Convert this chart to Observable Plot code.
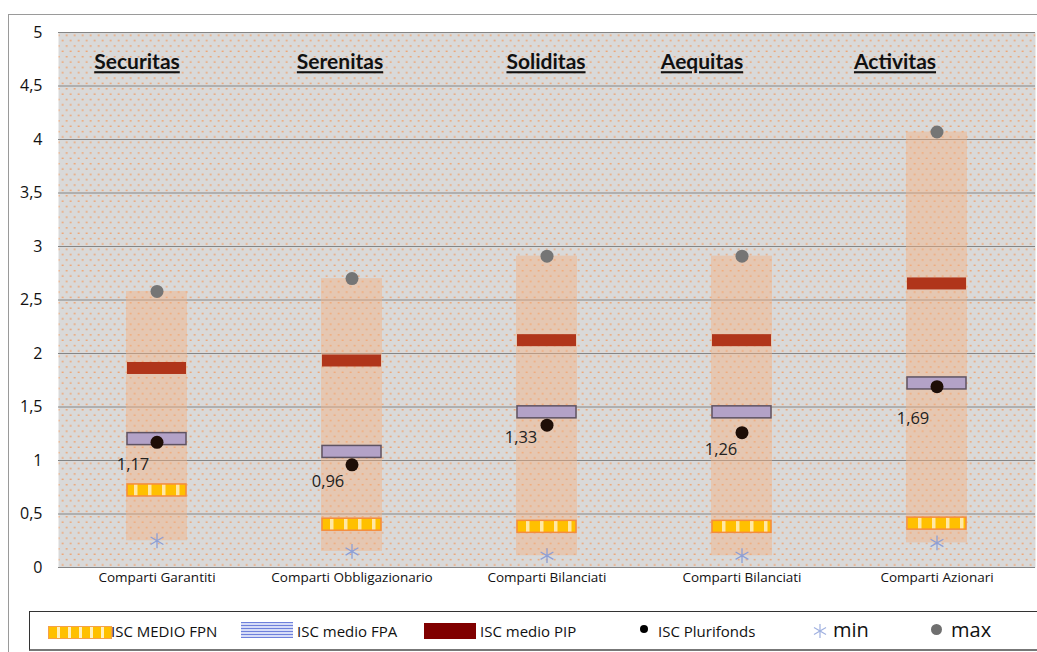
<!DOCTYPE html>
<html>
<head>
<meta charset="utf-8">
<script src="https://cdn.jsdelivr.net/npm/d3@7"></script>
<script src="https://cdn.jsdelivr.net/npm/@observablehq/plot@0.6"></script>
<style>
  html, body { margin: 0; padding: 0; background: #fff; }
  body { width: 1037px; height: 652px; overflow: hidden; position: relative; font-family: "Open Sans", sans-serif; }
  #chart { position: absolute; left: 0; top: 0; }
  #frame { position: absolute; left: 8px; top: 14px; width: 1100px; height: 640px; border-left: 1px solid #9a9a9a; border-top: 1px solid #9a9a9a; pointer-events: none; }
  #legend { position: absolute; left: 29px; top: 611px; width: 1100px; height: 40px; border-top: 1px solid #333; border-left: 1px solid #333; border-bottom: 2px solid #777; box-sizing: border-box; background: #fff; }
  .lg { position: absolute; }
  .lt { position: absolute; color: #111; white-space: nowrap; line-height: 1; }
</style>
</head>
<body>
<div id="chart"></div>
<div id="frame"></div>
<div id="legend"></div>
<script>
// ---- data ----
const funds = ["Securitas", "Serenitas", "Soliditas", "Aequitas", "Activitas"];
const comparti = ["Comparti Garantiti", "Comparti Obbligazionario", "Comparti Bilanciati", "Comparti Bilanciati", "Comparti Azionari"];
const iscMin = [0.25, 0.15, 0.11, 0.11, 0.23];
const iscMax = [2.58, 2.70, 2.91, 2.91, 4.07];
const iscFPN = [0.72, 0.40, 0.38, 0.38, 0.41];
const iscFPA = [1.20, 1.08, 1.45, 1.45, 1.72];
const iscPIP = [1.86, 1.93, 2.12, 2.12, 2.65];
const iscPlurifonds = [1.17, 0.96, 1.33, 1.26, 1.69];
const yTicks = [0, 0.5, 1, 1.5, 2, 2.5, 3, 3.5, 4, 4.5, 5];
const legendLabels = ["ISC MEDIO FPN", "ISC medio FPA", "ISC medio PIP", "ISC Plurifonds", "min", "max"];

// ---- layout (label offsets only) ----
const labelDy = [22, 17, 13, 17, 32];
const labelDx = [-24, -24, -26, -21, -24];
const titleDx = [-20, -12, -1, -40, -42];
const titleY = 4.72;

const idx = funds.map((_, i) => i);
const fx = i => funds[i];
const fmt = v => v.toFixed(2).replace(".", ",");

const plot = Plot.plot({
  width: 1037,
  height: 610,
  marginLeft: 58,
  marginRight: 2,
  marginTop: 32,
  marginBottom: 43,
  style: { fontFamily: "Open Sans", fontSize: "16px", background: "transparent", color: "#111" },
  x: { domain: funds, padding: 0, label: null, tickSize: 0, tickPadding: 5,
       tickFormat: (d, i) => comparti[funds.indexOf(d)] },
  y: { domain: [0, 5], label: null, ticks: yTicks, tickSize: 0, tickPadding: 16,
       tickFormat: d => String(d).replace(".", ",") },
  marks: [
    Plot.frame({ fill: "url(#dots)", stroke: null }),
    Plot.gridY(yTicks, { stroke: "#858585", strokeOpacity: 1, strokeWidth: 1.2 }),
    // range band min-max
    Plot.barY(idx, { x: fx, y1: i => iscMin[i], y2: i => iscMax[i], fill: "#f4b183", fillOpacity: 0.45, insetLeft: 67, insetRight: 67 }),
    // PIP
    Plot.barY(idx, { x: fx, y1: i => iscPIP[i], y2: i => iscPIP[i], insetTop: -6, insetBottom: -6, insetLeft: 68, insetRight: 68, fill: "#b0351a" }),
    // FPA
    Plot.barY(idx, { x: fx, y1: i => iscFPA[i], y2: i => iscFPA[i], insetTop: -6, insetBottom: -6, insetLeft: 68, insetRight: 68, fill: "#b3a2c7", stroke: "#5e5363", strokeWidth: 1.5 }),
    // FPN
    Plot.barY(idx, { x: fx, y1: i => iscFPN[i], y2: i => iscFPN[i], insetTop: -6, insetBottom: -6, insetLeft: 68, insetRight: 68, fill: "url(#stripes)", stroke: "#f58c3c", strokeWidth: 1.5 }),
    // min
    Plot.dot(idx, { x: fx, y: i => iscMin[i], symbol: "asterisk", r: 7, stroke: "#8d9fd6", strokeWidth: 1.3 }),
    // max
    Plot.dot(idx, { x: fx, y: i => iscMax[i], r: 6.5, fill: "#757575", stroke: null }),
    // plurifonds
    Plot.dot(idx, { x: fx, y: i => iscPlurifonds[i], r: 6.5, fill: "#1e0e07", stroke: null }),
    // labels
    ...idx.map(i => Plot.text([i], { x: fx, y: j => iscPlurifonds[j], text: j => fmt(iscPlurifonds[j]), dx: labelDx[i], dy: labelDy[i], fontSize: 16.5, fill: "#222" })),
    // fund titles
    ...idx.map(i => Plot.text([i], { x: fx, y: () => titleY, text: j => funds[j], dx: titleDx[i], fontFamily: "Lato", fontWeight: "bold", fontSize: 21, fill: "#111" }))
  ]
});

const svg = d3.select(plot);
svg.insert("defs", ":first-child").html(`
  <pattern id="dots" patternUnits="userSpaceOnUse" width="8" height="10.7">
    <rect width="8" height="10.7" fill="#d9d9d9"></rect>
    <rect x="1.5" y="2" width="1.4" height="1.4" fill="#f7904a"></rect>
    <rect x="5.5" y="7.35" width="1.4" height="1.4" fill="#f7904a"></rect>
  </pattern>
  <pattern id="stripes" patternUnits="userSpaceOnUse" width="14" height="20" x="2">
    <rect width="14" height="20" fill="#ffc000"></rect>
    <rect x="6" width="3.5" height="20" fill="#ffe8a6"></rect>
  </pattern>
`);
svg.selectAll("text").filter(function() { return funds.includes(this.textContent.trim()); })
  .style("text-decoration", "underline").attr("text-decoration", "underline");
svg.selectAll("text").filter(function() { return comparti.includes(this.textContent.trim()); })
  .attr("font-size", 13.5);
document.getElementById("chart").appendChild(plot);

// ---- legend ----
const lg = document.getElementById("legend");
function add(html) { lg.insertAdjacentHTML("beforeend", html); }
// FPN swatch
add(`<div class="lg" style="left:18px;top:14px;width:62px;height:11px;border:1px solid #f5a04a;background:repeating-linear-gradient(90deg,#ffc000 0 8px,#fff0c0 8px 11px);"></div>`);
add(`<div class="lt" style="left:81px;top:12px;font-size:15px;">${legendLabels[0]}</div>`);
// FPA swatch
add(`<div class="lg" style="left:211px;top:10px;width:52px;height:16px;background:repeating-linear-gradient(180deg,#6f80db 0 1px,#d6dcf7 1px 3px);"></div>`);
add(`<div class="lt" style="left:267px;top:12px;font-size:15px;">${legendLabels[1]}</div>`);
// PIP swatch
add(`<div class="lg" style="left:394px;top:11px;width:52px;height:16px;background:#800000;"></div>`);
add(`<div class="lt" style="left:450px;top:12px;font-size:15px;">${legendLabels[2]}</div>`);
// plurifonds
add(`<div class="lg" style="left:610px;top:13px;width:8px;height:8px;border-radius:50%;background:#000;"></div>`);
add(`<div class="lt" style="left:628px;top:12px;font-size:15px;">${legendLabels[3]}</div>`);
// min
add(`<svg class="lg" style="left:782px;top:11px;" width="16" height="16" viewBox="-8 -8 16 16"><g stroke="#9fb0e0" stroke-width="1.2"><line x1="0" y1="-7" x2="0" y2="7"/><line x1="-6" y1="-3.5" x2="6" y2="3.5"/><line x1="-6" y1="3.5" x2="6" y2="-3.5"/></g></svg>`);
add(`<div class="lt" style="left:803px;top:8px;font-size:20px;">${legendLabels[4]}</div>`);
// max
add(`<div class="lg" style="left:901px;top:12px;width:11px;height:11px;border-radius:50%;background:#6f6f6f;"></div>`);
add(`<div class="lt" style="left:921px;top:8px;font-size:20px;">${legendLabels[5]}</div>`);
</script>
</body>
</html>
